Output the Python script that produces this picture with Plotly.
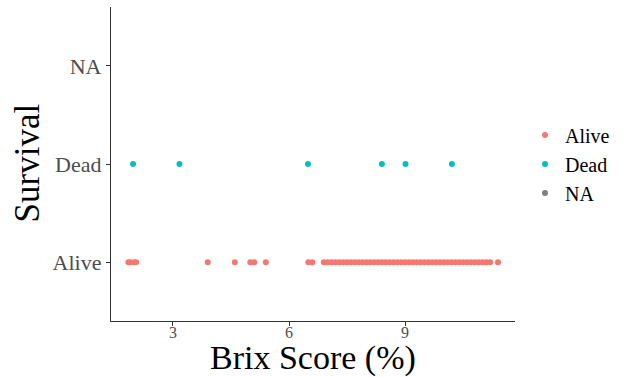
import plotly.graph_objects as go

alive_brix = [1.85, 1.9, 2.0, 2.05, 3.9, 4.6, 5.0, 5.1, 5.4, 6.5, 6.6,
              6.9, 7.0, 7.1, 7.2, 7.3, 7.4, 7.5, 7.6, 7.7, 7.8, 7.9,
              8.0, 8.1, 8.2, 8.3, 8.4, 8.5, 8.6, 8.7, 8.8, 8.9,
              9.0, 9.1, 9.2, 9.3, 9.4, 9.5, 9.6, 9.7, 9.8, 9.9,
              10.0, 10.1, 10.2, 10.3, 10.4, 10.5, 10.6, 10.7, 10.8, 10.9,
              11.0, 11.1, 11.2, 11.4]
dead_brix = [1.97, 3.17, 6.49, 8.40, 9.01, 10.21]
categories = ["Alive", "Dead", "NA"]
x_ticks = [3, 6, 9]

fig = go.Figure()
fig.add_trace(go.Scatter(x=alive_brix, y=["Alive"] * len(alive_brix), mode="markers",
                         name="Alive", marker=dict(color="#F8766D", size=6)))
fig.add_trace(go.Scatter(x=dead_brix, y=["Dead"] * len(dead_brix), mode="markers",
                         name="Dead", marker=dict(color="#00BFC4", size=6)))
fig.add_trace(go.Scatter(x=[None], y=[None], mode="markers",
                         name="NA", marker=dict(color="#7F7F7F", size=6)))

fig.update_layout(
    width=628, height=377,
    margin=dict(l=111, r=113, t=7, b=56, autoexpand=False),
    plot_bgcolor="white", paper_bgcolor="white",
    font=dict(family="Liberation Serif", color="#000000"),
    xaxis=dict(range=[1.40, 11.84], tickvals=x_ticks, ticktext=[str(v) for v in x_ticks],
               showgrid=False, zeroline=False, showline=True, linecolor="#333333", linewidth=1.2,
               ticks="outside", ticklen=4, tickcolor="#333333", automargin=False,
               ticklabelstandoff=-7,
               tickfont=dict(size=16, color="#4D4D4D")),
    yaxis=dict(type="category", categoryorder="array", categoryarray=categories,
               range=[-0.6, 2.6], showgrid=False, zeroline=False, showline=True,
               linecolor="#333333", linewidth=1.2, ticks="outside", ticklen=4, tickcolor="#333333",
               automargin=False, tickfont=dict(size=22, color="#4D4D4D")),
    legend=dict(x=1.0248, y=0.50, xanchor="left", yanchor="middle",
                font=dict(size=20, color="#000000"), itemwidth=30, tracegroupgap=0,
                bgcolor="rgba(0,0,0,0)"),
    annotations=[
        dict(text="Brix Score (%)", xref="paper", yref="paper", x=0.5, y=-0.118,
             xanchor="center", yanchor="middle", showarrow=False,
             font=dict(size=34, color="#000000")),
        dict(text="Survival", xref="paper", yref="paper", x=-0.207, y=0.503,
             xanchor="center", yanchor="middle", showarrow=False, textangle=-90,
             font=dict(size=35, color="#000000")),
    ],
)

fig.write_html("out.html", config={"displayModeBar": False},
               post_script="document.body.style.margin='0';")
